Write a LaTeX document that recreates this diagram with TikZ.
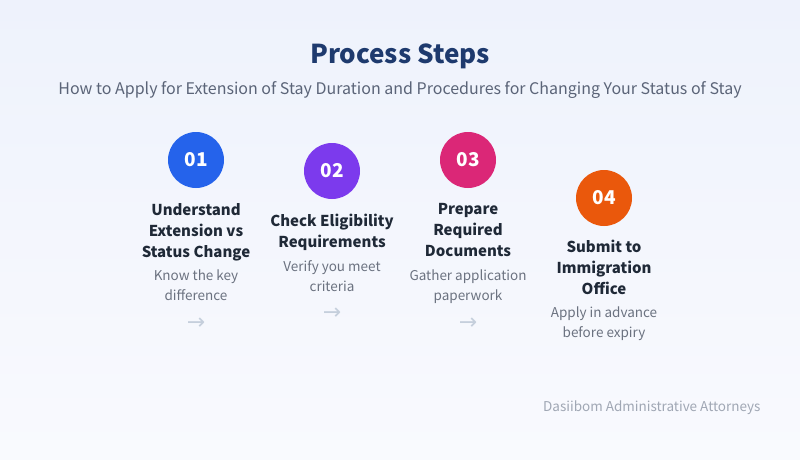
\documentclass[tikz,border=0pt]{standalone}
\usepackage{fontspec}
\setmainfont{Noto Sans CJK KR}
\newfontfamily\symfont{DejaVu Sans}
\definecolor{bgtop}{HTML}{EEF2FC}
\definecolor{bgbot}{HTML}{F9FAFE}
\definecolor{titlec}{HTML}{1E3A6E}
\definecolor{subc}{HTML}{5B6478}
\definecolor{headc}{HTML}{1F2937}
\definecolor{descc}{HTML}{6B7280}
\definecolor{arrc}{HTML}{C5CFDC}
\definecolor{footc}{HTML}{A0A7B4}
\definecolor{cA}{HTML}{2563EB}
\definecolor{cB}{HTML}{7C3AED}
\definecolor{cC}{HTML}{DB2777}
\definecolor{cD}{HTML}{EA580C}
\tikzset{
  num/.style={circle, fill=#1, minimum size=56pt, inner sep=0pt, text=white, font=\fontsize{19}{22}\selectfont\bfseries},
  head/.style={align=center, text=headc, font=\fontsize{15}{21}\selectfont\bfseries, inner sep=0pt, anchor=north},
  desc/.style={align=center, text=descc, font=\fontsize{13.5}{20}\selectfont, inner sep=0pt, anchor=north},
  arr/.style={text=arrc, font=\symfont\fontsize{22}{22}\selectfont, inner sep=0pt}
}
\begin{document}
\begin{tikzpicture}[x=1pt,y=-1pt]
\shade[top color=bgtop, bottom color=bgbot] (0,0) rectangle (800,460);
\useasboundingbox (0,0) rectangle (800,460);
\node[text=titlec, font=\fontsize{26}{30}\selectfont\bfseries] (title) at (400,56) {Process Steps};
\node[text=subc, font=\fontsize{16}{20}\selectfont] (sub) at (400,90) {How to Apply for Extension of Stay Duration and Procedures for Changing Your Status of Stay};
% step 1
\node[num=cA] (n1) at (196,160) {01};
\node[head] (h1) at (196,203) {Understand\\Extension vs\\Status Change};
\node[desc] (d1) at (196,270) {Know the key\\difference};
\node[arr] (a1) at (196,324) {→};
% step 2
\node[num=cB] (n2) at (332,171) {02};
\node[head] (h2) at (332,214) {Check Eligibility\\Requirements};
\node[desc] (d2) at (332,260) {Verify you meet\\criteria};
\node[arr] (a2) at (332,314) {→};
% step 3
\node[num=cC] (n3) at (468,160) {03};
\node[head] (h3) at (468,203) {Prepare\\Required\\Documents};
\node[desc] (d3) at (468,270) {Gather application\\paperwork};
\node[arr] (a3) at (468,324) {→};
% step 4
\node[num=cD] (n4) at (604,198) {04};
\node[head] (h4) at (604,240) {Submit to\\Immigration\\Office};
\node[desc] (d4) at (604,307) {Apply in advance\\before expiry};
% footer
\node[text=footc, font=\fontsize{13.5}{16}\selectfont, anchor=east] (foot) at (764,408) {Dasiibom Administrative Attorneys};
\end{tikzpicture}
\end{document}
